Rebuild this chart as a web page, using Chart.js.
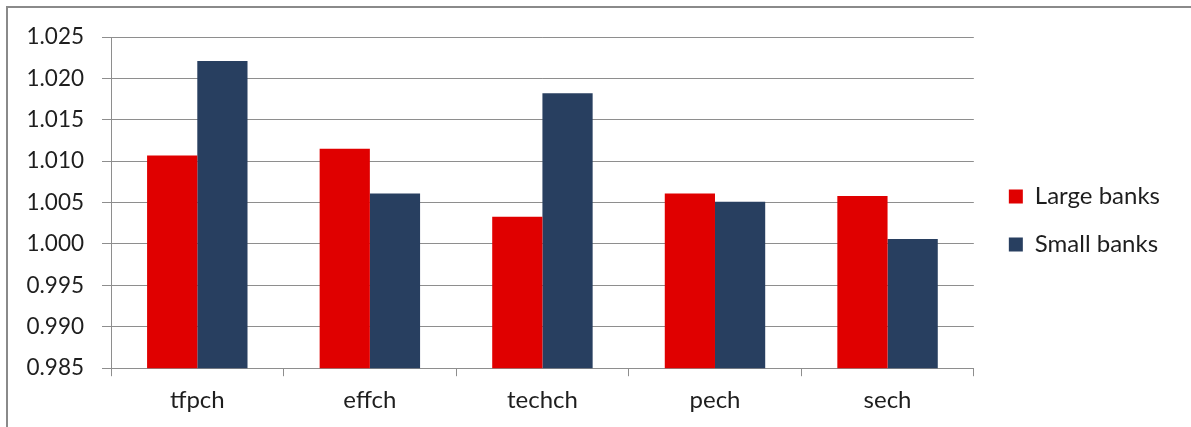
<!DOCTYPE html>
<html>
<head>
<meta charset="utf-8">
<title>Productivity change: large vs small banks</title>
<script src="https://cdn.jsdelivr.net/npm/chart.js@4/dist/chart.umd.min.js"></script>
<style>
  html, body { margin: 0; padding: 0; background: #ffffff; }
  #wrap { position: relative; width: 1191px; height: 427px; overflow: hidden; }
  #frame {
    position: absolute; left: 6px; top: 6px; right: 0; bottom: 0;
    border-left: 2px solid #8a8a8a; border-top: 2px solid #8a8a8a;
  }
  #chart { position: absolute; left: 0; top: 0; }
</style>
</head>
<body>
<div id="wrap">
  <div id="frame"></div>
  <canvas id="chart" width="1191" height="427"></canvas>
</div>
<script>
// Malmquist index components
const categories = ['tfpch', 'effch', 'techch', 'pech', 'sech'];
const largeBanks = [1.0107, 1.0115, 1.0033, 1.0061, 1.0058];
const smallBanks = [1.0221, 1.0061, 1.0182, 1.0051, 1.0006];
const seriesNames = ['Large banks', 'Small banks'];
const yMin = 0.985;
const yMax = 1.025;
const yStep = 0.005;

const FONT = 'Lato, "Open Sans", "Liberation Sans", sans-serif';
const TEXT = '#1e1e1e';
const GRID = '#8e8e8e';

new Chart(document.getElementById('chart'), {
  type: 'bar',
  data: {
    labels: categories,
    datasets: [
      { label: seriesNames[0], data: largeBanks, backgroundColor: '#e00000', borderWidth: 0 },
      { label: seriesNames[1], data: smallBanks, backgroundColor: '#283f60', borderWidth: 0 }
    ]
  },
  options: {
    responsive: false,
    animation: false,
    events: [],
    layout: { padding: { left: 8.5, right: 21, top: 16, bottom: 2 } },
    datasets: { bar: { categoryPercentage: 0.582, barPercentage: 1.0 } },
    plugins: {
      tooltip: { enabled: false },
      legend: {
        position: 'right',
        align: 'center',
        labels: {
          boxWidth: 14,
          boxHeight: 14,
          padding: 24,
          color: TEXT,
          font: { family: FONT, size: 24 }
        }
      }
    },
    scales: {
      x: {
        type: 'category',
        position: 'bottom',
        offset: true,
        grid: {
          offset: true,
          drawOnChartArea: false,
          drawTicks: true,
          tickLength: 8,
          color: GRID,
          lineWidth: 1
        },
        border: { display: true, color: GRID, width: 1 },
        ticks: { padding: 10, color: TEXT, font: { family: FONT, size: 24 }, maxRotation: 0 }
      },
      y: {
        type: 'linear',
        position: 'left',
        min: yMin,
        max: yMax,
        grid: { color: GRID, lineWidth: 1, drawTicks: true, tickLength: 9 },
        border: { display: true, color: GRID, width: 1 },
        ticks: {
          stepSize: yStep,
          padding: 18,
          color: TEXT,
          font: { family: FONT, size: 22.5 },
          callback: (v) => Number(v).toFixed(3)
        }
      },
      // spacer axes that only reserve room around the plot area
      gapRight: {
        type: 'linear',
        axis: 'y',
        position: 'right',
        grid: { display: false },
        border: { display: false },
        ticks: { display: false },
        afterFit: (s) => { s.width = 11; }
      },
      gapTop: {
        type: 'linear',
        axis: 'x',
        position: 'top',
        grid: { display: false },
        border: { display: false },
        ticks: { display: false },
        afterFit: (s) => { s.height = 21; }
      }
    }
  }
});
</script>
</body>
</html>
